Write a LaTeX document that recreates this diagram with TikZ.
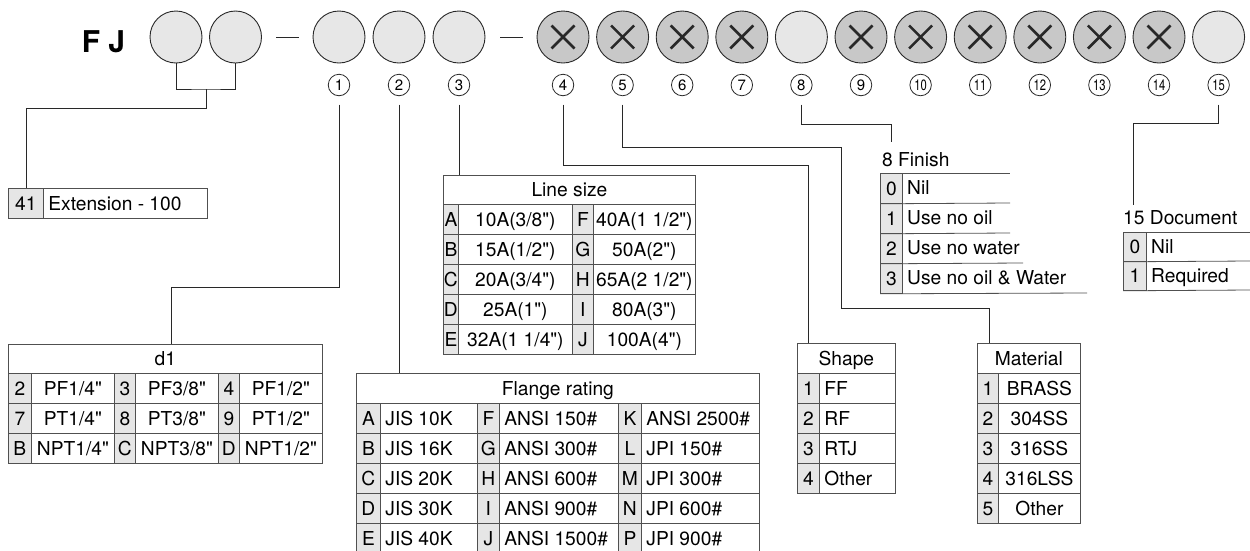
\documentclass[tikz,border=0pt]{standalone}
\usepackage{fontspec}
\setmainfont{TeX Gyre Heros}
\usepackage{graphicx}
\definecolor{lightfill}{RGB}{231,231,231}
\definecolor{darkfill}{RGB}{200,200,200}
\definecolor{keyfill}{RGB}{230,230,230}
\definecolor{linecol}{RGB}{80,80,80}
\definecolor{ink}{RGB}{40,40,40}
\newcommand\tabfont{\fontsize{19.2}{21}\selectfont}
\newcommand\numfont{\fontsize{15}{16}\selectfont}
\newcommand\qq{\textquotedbl}
\newcommand\TCc[6]{\node[tcell,minimum width=#4pt,minimum height=#5pt] (#1) at (#2,#3) {#6};}
\newcommand\TCk[6]{\node[kcell,minimum width=#4pt,minimum height=#5pt] (#1) at (#2,#3) {#6};}
\newcommand\TCl[6]{\node[tcell,minimum height=#5pt] (#1) at (#2,#3) {\makebox[#4pt][l]{\hspace{5pt}#6}};}
\begin{document}
\begin{tikzpicture}[x=1pt,y=-1pt,
 tcell/.style={draw=linecol,line width=0.8pt,anchor=north west,inner sep=0pt,text height=13.8pt,text depth=0pt,font=\tabfont},
 kcell/.style={tcell,fill=keyfill},
 conn/.style={draw=ink,line width=0.9pt},
 numconn/.style={conn,shorten <=8.5pt},
 bigc/.style={circle,draw=ink,line width=0.9pt,minimum size=52pt,inner sep=0pt},
 lightc/.style={bigc,fill=lightfill},
 xc/.style={bigc,fill=darkfill,path picture={\draw[ink,line width=2.6pt]
   ([shift={(-11.5,-11.5)}]path picture bounding box.center) -- ([shift={(11.5,11.5)}]path picture bounding box.center)
   ([shift={(-11.5,11.5)}]path picture bounding box.center) -- ([shift={(11.5,-11.5)}]path picture bounding box.center);}},
 numc/.style={circle,draw=ink,line width=0.8pt,minimum size=21.5pt,inner sep=0pt,font=\numfont},
 ttl/.style={anchor=west,inner sep=0pt,font=\tabfont,text height=13.8pt,text depth=0pt},
 rule/.style={draw=linecol,line width=0.8pt}
]
\useasboundingbox (0,0) rectangle (1250,550);
\fill[white] (0,0) rectangle (1250,550);
\clip (0,0) rectangle (1250,550);

% header code
\node[font=\fontsize{30}{32}\selectfont\bfseries,inner sep=0pt] (fj) at (103.5,42) {F J};
\node[lightc] (c01) at (176,37) {};
\node[lightc] (c02) at (235.5,37) {};
\draw[conn] (276,37) -- (299,37);
\node[lightc] (c1) at (339,37) {};
\node[lightc] (c2) at (399,37) {};
\node[lightc] (c3) at (459,37) {};
\draw[conn] (500,37) -- (523,37);
\foreach \i in {4,5,6,7,9,10,11,12,13,14}{
  \node[xc] (c\i) at ({563+59.6*(\i-4)},37) {};
}
\node[lightc] (c8) at ({563+59.6*4},37) {};
\node[lightc] (c15) at ({563+59.6*11},37) {};
\node[numc] (n1) at (339,85) {1};
\node[numc] (n2) at (399,85) {2};
\node[numc] (n3) at (459,85) {3};
\foreach \i in {4,...,9}{
  \node[numc] (n\i) at ({563+59.6*(\i-4)},85) {\i};
}
\foreach \i in {10,...,15}{
  \node[numc] (n\i) at ({563+59.6*(\i-4)},85) {\scalebox{0.75}[1]{\i}};
}

% extension table
\TCk{extk}{8}{188}{35}{30}{41}
\TCl{extv}{43}{188}{164}{30}{Extension - 100}

% d1 table
\TCc{d1h}{8}{344}{314}{29}{d1}
\foreach \r/\ka/\va/\kb/\vb/\kc/\vc [count=\i] in {373/2/{PF1/4\qq}/3/{PF3/8\qq}/4/{PF1/2\qq},
  403/7/{PT1/4\qq}/8/{PT3/8\qq}/9/{PT1/2\qq}, 433/B/{NPT1/4\qq}/C/{NPT3/8\qq}/D/{NPT1/2\qq}}{
  \TCk{da\i}{8}{\r}{23}{30}{\ka}
  \TCc{db\i}{31}{\r}{83}{30}{\va}
  \TCk{dc\i}{114}{\r}{21}{30}{\kb}
  \TCc{dd\i}{135}{\r}{83}{30}{\vb}
  \TCk{de\i}{218}{\r}{21}{30}{\kc}
  \TCc{df\i}{239}{\r}{83}{30}{\vc}
}

% line size table
\TCc{lsh}{443}{175}{252}{29}{Line size}
\foreach \r/\ka/\va/\kb/\vb [count=\i] in {204/A/{10A(3/8\qq)}/F/{40A(1 1/2\qq)},
  234/B/{15A(1/2\qq)}/G/{50A(2\qq)}, 264/C/{20A(3/4\qq)}/H/{65A(2 1/2\qq)},
  294/D/{25A(1\qq)}/I/{80A(3\qq)}, 324/E/{32A(1 1/4\qq)}/J/{100A(4\qq)}}{
  \TCk{la\i}{443}{\r}{15}{30}{\ka}
  \TCc{lb\i}{458}{\r}{114}{30}{\va}
  \TCk{lc\i}{572}{\r}{21}{30}{\kb}
  \TCc{ld\i}{593}{\r}{102}{30}{\vb}
}

% flange rating table
\TCc{fh}{356}{373}{403}{30}{Flange rating}
\foreach \r/\ka/\va/\kb/\vb/\kc/\vc [count=\i] in {403/A/{JIS 10K}/F/{ANSI 150\#}/K/{ANSI 2500\#},
  433/B/{JIS 16K}/G/{ANSI 300\#}/L/{JPI 150\#}, 463/C/{JIS 20K}/H/{ANSI 600\#}/M/{JPI 300\#},
  493/D/{JIS 30K}/I/{ANSI 900\#}/N/{JPI 600\#}, 523/E/{JIS 40K}/J/{ANSI 1500\#}/P/{JPI 900\#}}{
  \TCk{fa\i}{356}{\r}{24}{30}{\ka}
  \TCl{fb\i}{380}{\r}{97}{30}{\va}
  \TCk{fc\i}{477}{\r}{22}{30}{\kb}
  \TCl{fd\i}{499}{\r}{119}{30}{\vb}
  \TCk{fe\i}{618}{\r}{23}{30}{\kc}
  \TCl{ff\i}{641}{\r}{118}{30}{\vc}
}

% shape table
\TCc{sh}{797}{343}{98}{30}{Shape}
\foreach \r/\k/\v [count=\i] in {373/1/FF, 403/2/RF, 433/3/RTJ, 463/4/Other}{
  \TCk{sa\i}{797}{\r}{22}{30}{\k}
  \TCl{sb\i}{819}{\r}{76}{30}{\v}
}

% material table
\TCc{mh}{977}{343}{103}{30}{Material}
\foreach \r/\k/\v [count=\i] in {373/1/BRASS, 403/2/304SS, 433/3/316SS, 463/4/316LSS, 493/5/Other}{
  \TCk{ma\i}{977}{\r}{21}{30}{\k}
  \TCc{mb\i}{998}{\r}{82}{30}{\v}
}

% finish list
\node[ttl] (fint) at (882,160) {8 Finish};
\foreach \r/\k/\v [count=\i] in {173/0/Nil, 203/1/Use no oil, 233/2/Use no water, 263/3/Use no oil \& Water}{
  \TCk{fk\i}{880}{\r}{22}{30}{\k}
  \node[ttl] (fv\i) at (907,\r+15) {\v};
}
\draw[rule] (fk1.north west) -- (1010,173);
\draw[rule] (fk1.south west) -- (1010,203);
\draw[rule] (fk2.south west) -- (1010,233);
\draw[rule] (fk3.south west) -- (1023,263);
\draw[rule] (fk4.south west) -- (1087,293);

% document list
\node[ttl] (doct) at (1123,218) {15 Document};
\foreach \r/\k/\v [count=\i] in {232/0/Nil, 261/1/Required}{
  \TCk{dk\i}{1123}{\r}{23}{29}{\k}
  \node[ttl] (dv\i) at (1151,\r+14.5) {\v};
}
\draw[rule] (dk1.north west) -- (1250,232);
\draw[rule] (dk1.south west) -- (1250,261);
\draw[rule] (dk2.south west) -- (1250,290);

% connectors
\coordinate (bm) at (206,89);
\coordinate (jb) at (26,108);
\draw[conn] (c01.south) |- (bm) -| (c02.south);
\draw[conn] (bm) |- (jb) -- (jb |- extk.north);

\coordinate (j1) at (171,287);
\draw[numconn] (n1.south) |- (j1) -- (j1 |- d1h.north);
\draw[numconn] (n2.south) -- (n2.south |- fh.north);
\draw[numconn] (n3.south) -- (n3.south |- lsh.north);
\coordinate (j4) at (808,165);
\draw[numconn] (n4.south) |- (j4) -- (j4 |- sh.north);
\coordinate (j5a) at (841,147);
\coordinate (j5b) at (989,308);
\draw[numconn] (n5.south) |- (j5a) |- (j5b) -- (j5b |- mh.north);
\coordinate (j8) at (891,124);
\draw[numconn] (n8.south) |- (j8) -- (891,142);
\coordinate (j15) at (1133,123);
\draw[numconn] (n15.south) |- (j15) -- (1133,205);
\end{tikzpicture}
\end{document}
